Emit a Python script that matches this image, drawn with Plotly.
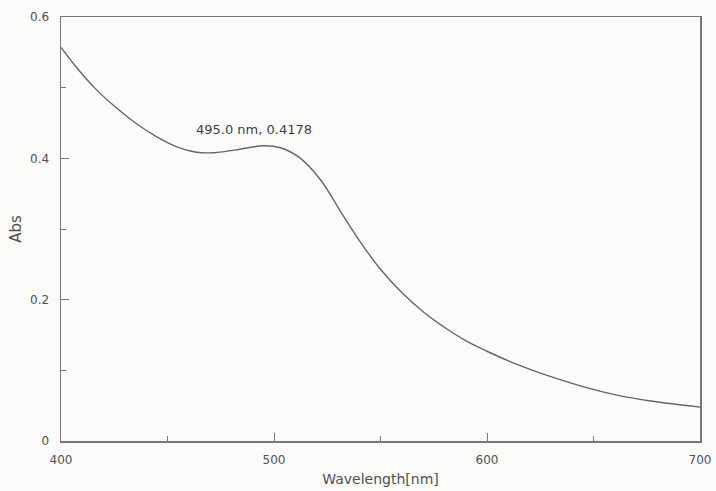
import plotly.graph_objects as go

wavelength = [400, 408, 416, 425, 435, 444, 453, 463, 472, 482, 495, 503, 512, 522, 531,
              540, 550, 560, 570, 580, 590, 600, 612, 630, 645, 661, 676, 700]
absorbance = [0.557, 0.526, 0.499, 0.474, 0.450, 0.432, 0.418, 0.409, 0.408, 0.412, 0.4178,
              0.415, 0.401, 0.369, 0.326, 0.284, 0.243, 0.210, 0.183, 0.161, 0.142, 0.127,
              0.111, 0.091, 0.077, 0.065, 0.057, 0.048]

peak_wl = 495.0
peak_abs = 0.4178

x_ticks = [400, 500, 600, 700]
y_ticks = [0, 0.2, 0.4, 0.6]
y_ticktext = ["0", "0.2", "0.4", "0.6"]

axis_color = "#777777"
text_color = "#505050"
font_fam = "DejaVu Sans, Verdana, sans-serif"

fig = go.Figure()
fig.add_trace(go.Scatter(
    x=wavelength, y=absorbance, mode="lines",
    line=dict(color="#666666", width=1.4, shape="spline", smoothing=1.0),
    hoverinfo="skip", showlegend=False,
))

fig.add_annotation(
    x=peak_wl, y=peak_abs, text=f"{peak_wl:.1f} nm, {peak_abs:.4f}",
    showarrow=False, xanchor="center", yanchor="middle", xshift=-9, yshift=16,
    font=dict(family=font_fam, size=13, color="#3f3f3f"),
)

fig.update_xaxes(
    range=[400, 700], tickvals=x_ticks, ticktext=[str(v) for v in x_ticks],
    ticks="inside", ticklen=8, tickcolor=axis_color, tickwidth=1,
    minor=dict(dtick=50, tick0=400, ticks="inside", ticklen=5, tickcolor=axis_color),
    showline=True, linecolor=axis_color, linewidth=1.5, mirror=True,
    showgrid=False, zeroline=False, ticklabelstandoff=7, automargin=False,
    tickfont=dict(family=font_fam, size=12, color=text_color),
    title=dict(text="Wavelength[nm]", standoff=8,
               font=dict(family=font_fam, size=14, color=text_color)),
)
fig.update_yaxes(
    range=[0, 0.6], tickvals=y_ticks, ticktext=y_ticktext,
    ticks="inside", ticklen=8, tickcolor=axis_color, tickwidth=1,
    minor=dict(dtick=0.1, tick0=0, ticks="inside", ticklen=5, tickcolor=axis_color),
    showline=True, linecolor=axis_color, linewidth=1.5, mirror=True,
    showgrid=False, zeroline=False, ticklabelstandoff=8, automargin=False,
    tickfont=dict(family=font_fam, size=12, color=text_color),
    title=dict(text="Abs", standoff=5,
               font=dict(family=font_fam, size=15, color=text_color)),
)

fig.update_layout(
    width=716, height=491,
    margin=dict(l=61, r=16, t=17, b=50),
    paper_bgcolor="#fbfbfa", plot_bgcolor="#fbfbfa",
)

fig.write_html(
    "out.html",
    config={"displayModeBar": False, "staticPlot": True},
    post_script="document.body.style.margin='0';document.body.style.overflow='hidden';",
)
